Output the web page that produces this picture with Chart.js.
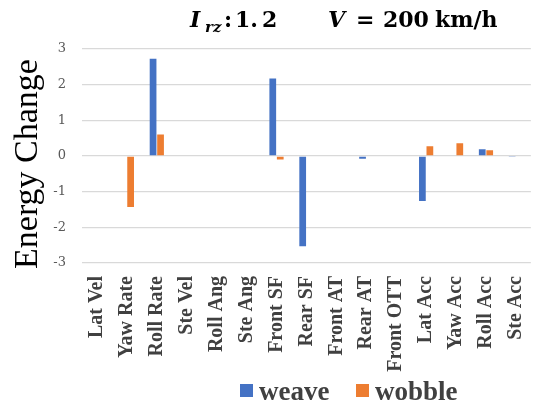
<!DOCTYPE html>
<html>
<head>
<meta charset="utf-8">
<script src="https://cdn.jsdelivr.net/npm/chart.js@4/dist/chart.umd.min.js"></script>
<style>
html,body{margin:0;padding:0;background:#fff;}
canvas{display:block;}
</style>
</head>
<body>
<canvas id="c" width="553" height="409"></canvas>
<script>
const categories = ["Lat Vel","Yaw Rate","Roll Rate","Ste Vel","Roll Ang","Ste Ang","Front SF","Rear SF","Front AT","Rear AT","Front OTT","Lat Acc","Yaw Acc","Roll Acc","Ste Acc"];
const weave  = [0, 0, 2.73, 0, 0, 0, 2.17, -2.53, -0.02, -0.08, 0, -1.26, 0, 0.19, -0.03];
const wobble = [0, -1.43, 0.6, 0, 0, 0, -0.1, 0, 0, 0, 0, 0.27, 0.36, 0.16, 0];
const yTicks = [-3, -2, -1, 0, 1, 2, 3];
const seriesNames = ["weave", "wobble"];
const seriesColors = ["#4472C4", "#ED7D31"];
const yTitle = "Energy Change";

const SERIF = '"Liberation Serif", "DejaVu Serif", serif';
const MATH = '"DejaVu Serif", serif';

const decor = {
  id: 'decor',
  afterDraw(chart) {
    const ctx = chart.ctx;
    ctx.save();
    ctx.fillStyle = '#000';
    ctx.textBaseline = 'alphabetic';
    ctx.textAlign = 'left';
    // Title
    const base = 27;
    ctx.font = 'italic bold 22px ' + MATH;
    ctx.fillText('I', 190, base);
    ctx.font = 'italic bold 15px ' + MATH;
    ctx.fillText('rz', 205, base + 5);
    ctx.font = 'bold 22px ' + MATH;
    ctx.fillText(':', 224, base);
    ctx.fillText('1.', 235, base);
    ctx.fillText('2', 262, base);
    ctx.font = 'italic bold 22px ' + MATH;
    ctx.fillText('V', 328, base);
    ctx.font = 'bold 22px ' + MATH;
    ctx.fillText('=', 356, base);
    ctx.fillText('200', 383, base);
    ctx.fillText('km/h', 435, base);

    // Y title
    ctx.save();
    ctx.translate(37, 164);
    ctx.rotate(-Math.PI / 2);
    ctx.textAlign = 'center';
    ctx.font = '34px ' + SERIF;
    ctx.fillStyle = '#000';
    ctx.fillText(yTitle, 0, 0);
    ctx.restore();

    // Legend
    const items = [{x: 240, tx: 259}, {x: 356, tx: 375}];
    ctx.font = 'bold 27px ' + SERIF;
    items.forEach((it, i) => {
      ctx.fillStyle = seriesColors[i];
      ctx.fillRect(it.x, 384, 13, 13);
      ctx.fillStyle = '#404040';
      ctx.fillText(seriesNames[i], it.tx, 400);
    });
    ctx.restore();
  }
};

new Chart(document.getElementById('c'), {
  type: 'bar',
  data: {
    labels: categories,
    datasets: [
      {label: seriesNames[0], data: weave, backgroundColor: seriesColors[0], categoryPercentage: 0.5, barPercentage: 0.9},
      {label: seriesNames[1], data: wobble, backgroundColor: seriesColors[1], categoryPercentage: 0.5, barPercentage: 0.9}
    ]
  },
  options: {
    responsive: false,
    animation: false,
    devicePixelRatio: 1,
    layout: {padding: {top: 49, right: 3, bottom: 0, left: 0}},
    plugins: {legend: {display: false}, title: {display: false}, tooltip: {enabled: false}},
    scales: {
      x: {
        grid: {display: false, drawTicks: false},
        border: {display: false},
        ticks: {
          autoSkip: false, minRotation: 90, maxRotation: 90, padding: 13,
          color: '#404040',
          font: {family: SERIF, size: 20, weight: 'bold'}
        },
        afterFit(s) { s.height = 146; }
      },
      y: {
        min: -3, max: 3,
        afterBuildTicks(s) { s.ticks = yTicks.map(v => ({value: v})); },
        grid: {color: '#d9d9d9', lineWidth: 1.3, drawTicks: false},
        border: {display: false},
        ticks: {
          padding: 16, color: '#595959',
          font: {family: MATH, size: 13}
        },
        afterFit(s) { s.width = 82; }
      }
    }
  },
  plugins: [decor]
});
</script>
</body>
</html>
